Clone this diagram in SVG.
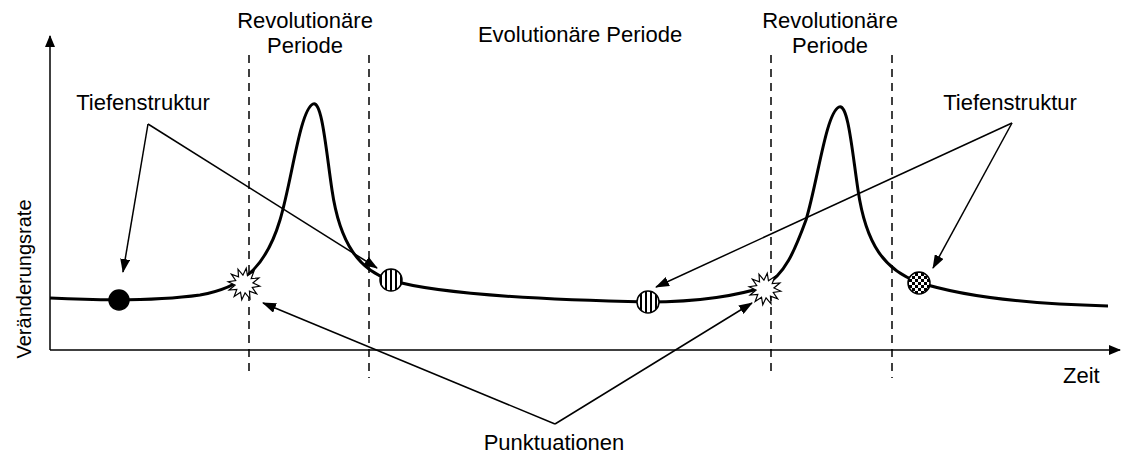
<svg xmlns="http://www.w3.org/2000/svg" width="1122" height="455" viewBox="0 0 1122 455">
<style>
text{font-family:"Liberation Sans",Arial,sans-serif;font-size:22px;fill:#000}
.axis{stroke:#000;stroke-width:1.5;fill:none}
.dash{stroke:#000;stroke-width:1.5;stroke-dasharray:8 6;fill:none}
.curve{stroke:#000;stroke-width:3;fill:none}
.arr{stroke:#000;stroke-width:1.5;fill:none;marker-end:url(#ah)}
.mk{stroke:#000;stroke-width:1.5}
</style>
<defs>
<marker id="ah" viewBox="0 0 14 10" refX="13" refY="5" markerWidth="14" markerHeight="10" markerUnits="userSpaceOnUse" orient="auto">
<path d="M0,0 L14,5 L0,10 Z" fill="#000"/>
</marker>
<marker id="axh" viewBox="0 0 12 10" refX="11" refY="5" markerWidth="12" markerHeight="10" markerUnits="userSpaceOnUse" orient="auto">
<path d="M0,0 L12,5 L0,10 Z" fill="#000"/>
</marker>
<pattern id="stripes" patternUnits="userSpaceOnUse" width="5" height="10">
<rect width="5" height="10" fill="#fff"/>
<rect x="0" width="2" height="10" fill="#000"/>
</pattern>
<pattern id="checker" patternUnits="userSpaceOnUse" width="6" height="6">
<rect width="6" height="6" fill="#fff"/>
<rect width="3" height="3" fill="#000"/>
<rect x="3" y="3" width="3" height="3" fill="#000"/>
</pattern>
<polygon id="star" points="16,0 8.7,2.3 13.9,8 6.4,6.3 8,13.8 2.3,8.6 0,16 -2.3,8.6 -8,13.8 -6.4,6.3 -13.9,8 -8.7,2.3 -16,0 -8.7,-2.3 -13.9,-8 -6.4,-6.3 -8,-13.8 -2.3,-8.6 0,-16 2.3,-8.6 8,-13.8 6.4,-6.3 13.9,-8 8.7,-2.3" fill="#fff" stroke="#000" stroke-width="1.2"/>
</defs>
<rect width="1122" height="455" fill="#fff"/>
<g id="axes">
<line class="axis" x1="50" y1="350" x2="50" y2="36" marker-end="url(#axh)"/>
<line class="axis" x1="50" y1="350" x2="1120" y2="350" marker-end="url(#axh)"/>
<text x="1063" y="383">Zeit</text>
<text transform="translate(31,279) rotate(-90)" text-anchor="middle" style="font-size:20px">Veränderungsrate</text>
</g>
<g id="periods">
<line class="dash" x1="249" y1="55" x2="249" y2="376"/>
<line class="dash" x1="369" y1="55" x2="369" y2="378"/>
<line class="dash" x1="771" y1="55" x2="771" y2="376"/>
<line class="dash" x1="892" y1="55" x2="892" y2="378"/>
<text x="305" y="28" text-anchor="middle">Revolutionäre</text>
<text x="305" y="53" text-anchor="middle">Periode</text>
<text x="580" y="42" text-anchor="middle">Evolutionäre Periode</text>
<text x="830" y="28" text-anchor="middle">Revolutionäre</text>
<text x="830" y="53" text-anchor="middle">Periode</text>
</g>
<g id="curve">
<path class="curve" d="M50,298 C90,300 150,302 200,295 C240,288 265,270 280,220 C292,180 300,110 313,104 C322,100 326,150 332,190 C340,245 360,270 390,280 C440,295 550,300 648,302 C700,302 740,295 763,287 C785,275 795,250 806,220 C818,180 826,113 839,107 C848,103 852,150 858,190 C866,245 885,270 918,282 C960,296 1030,304 1108,306"/>
</g>
<g id="connectors">
<line class="arr" x1="148" y1="124" x2="377" y2="268"/>
<line class="arr" x1="148" y1="124" x2="123" y2="272"/>
<line class="arr" x1="1012" y1="123" x2="656" y2="287"/>
<line class="arr" x1="1012" y1="123" x2="933" y2="268"/>
<line class="arr" x1="555" y1="424" x2="263" y2="303"/>
<line class="arr" x1="555" y1="424" x2="752" y2="303"/>
</g>
<g id="markers">
<circle class="mk" cx="119" cy="300" r="10" fill="#000"/>
<circle class="mk" cx="391" cy="280" r="11" fill="url(#stripes)"/>
<circle class="mk" cx="648" cy="302" r="11" fill="url(#stripes)"/>
<circle class="mk" cx="919" cy="283" r="11" fill="url(#checker)"/>
<use href="#star" transform="translate(244,284) rotate(8)"/>
<use href="#star" transform="translate(765,289) rotate(8)"/>
</g>
<g id="labels">
<text x="143" y="110" text-anchor="middle">Tiefenstruktur</text>
<text x="1010" y="110" text-anchor="middle">Tiefenstruktur</text>
<text x="554" y="450" text-anchor="middle">Punktuationen</text>
</g>
</svg>
